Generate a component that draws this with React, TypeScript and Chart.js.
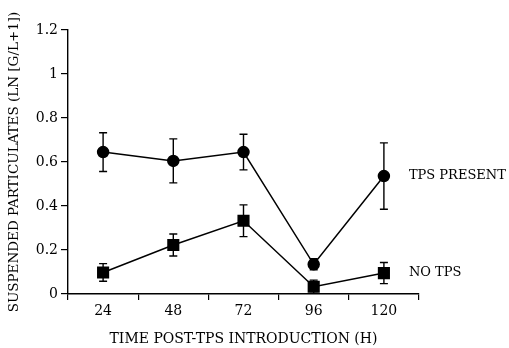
import React, { useEffect, useRef } from "react";
import { Chart, registerables } from "chart.js";

Chart.register(...registerables);

const categories = ["24", "48", "72", "96", "120"];
const tpsPresent = [0.645, 0.605, 0.645, 0.135, 0.536];
const tpsPresentErr = [0.088, 0.1, 0.081, 0.025, 0.151];
const noTps = [0.098, 0.223, 0.333, 0.033, 0.095];
const noTpsErr = [0.04, 0.05, 0.072, 0.03, 0.048];
const seriesLabels = ["TPS PRESENT", "NO TPS"];
const yTitle = "SUSPENDED PARTICULATES (LN [G/L+1])";
const xTitle = "TIME POST-TPS INTRODUCTION (H)";

const FONT = "'DejaVu Serif', 'Liberation Serif', serif";

const errorBarPlugin = {
  id: "errorBars",
  afterDatasetsDraw(chart: any) {
    const ctx = chart.ctx;
    const yScale = chart.scales.y;
    chart.data.datasets.forEach((ds: any, i: number) => {
      const meta = chart.getDatasetMeta(i);
      const errs: number[] = ds.errors || [];
      ctx.save();
      ctx.strokeStyle = "#000";
      ctx.lineWidth = 1.4;
      meta.data.forEach((pt: any, j: number) => {
        const v = ds.data[j];
        const e = errs[j] || 0;
        const x = pt.x;
        const yTop = yScale.getPixelForValue(v + e);
        const yBot = yScale.getPixelForValue(Math.max(0, v - e));
        ctx.beginPath();
        ctx.moveTo(x, yTop);
        ctx.lineTo(x, yBot);
        ctx.moveTo(x - 4, yTop);
        ctx.lineTo(x + 4, yTop);
        ctx.moveTo(x - 4, yBot);
        ctx.lineTo(x + 4, yBot);
        ctx.stroke();
      });
      const last = meta.data[meta.data.length - 1];
      if (last) {
        ctx.fillStyle = "#000";
        ctx.font = "13px " + FONT;
        ctx.textBaseline = "middle";
        ctx.textAlign = "left";
        ctx.fillText(ds.label, last.x + 25, last.y);
      }
      ctx.restore();
    });
  },
};

export default function App() {
  const ref = useRef<HTMLCanvasElement | null>(null);
  useEffect(() => {
    document.body.style.margin = "0";
    const chart = new Chart(ref.current as HTMLCanvasElement, {
      type: "line",
      data: {
        labels: categories,
        datasets: [
          {
            label: seriesLabels[0],
            data: tpsPresent,
            errors: tpsPresentErr,
            borderColor: "#000",
            backgroundColor: "#000",
            borderWidth: 1.5,
            pointStyle: "circle",
            pointRadius: 5.5,
            pointHoverRadius: 5.5,
            tension: 0,
          } as any,
          {
            label: seriesLabels[1],
            data: noTps,
            errors: noTpsErr,
            borderColor: "#000",
            backgroundColor: "#000",
            borderWidth: 1.5,
            pointStyle: "rect",
            pointRadius: 7.5,
            pointHoverRadius: 7.5,
            tension: 0,
          } as any,
        ],
      },
      options: {
        responsive: false,
        animation: false,
        events: [],
        layout: { padding: { left: 0, right: 90, top: 30, bottom: 0 } },
        plugins: {
          legend: { display: false },
          tooltip: { enabled: false },
        },
        scales: {
          x: {
            type: "category",
            offset: true,
            grid: {
              offset: true,
              drawOnChartArea: false,
              drawTicks: true,
              tickLength: 6,
              color: "#000",
              lineWidth: 1.2,
            },
            border: { color: "#000", width: 1.4 },
            ticks: {
              color: "#000",
              padding: 3,
              font: { family: FONT, size: 14 },
              maxRotation: 0,
            },
            title: {
              display: true,
              text: xTitle,
              color: "#000",
              font: { family: FONT, size: 14 },
              padding: { top: 0, bottom: 0 },
            },
            afterFit(scale: any) {
              scale.height = 54;
            },
          },
          y: {
            min: 0,
            max: 1.2,
            ticks: {
              stepSize: 0.2,
              color: "#000",
              padding: 3,
              font: { family: FONT, size: 14 },
              callback: (v: any) => String(Number(Number(v).toFixed(1))),
            },
            grid: {
              drawOnChartArea: false,
              drawTicks: true,
              tickLength: 7,
              color: "#000",
              lineWidth: 1.2,
            },
            border: { color: "#000", width: 1.4 },
            title: {
              display: true,
              text: yTitle,
              color: "#000",
              font: { family: FONT, size: 13.5 },
              padding: { top: 6, bottom: 0 },
            },
            afterFit(scale: any) {
              scale.width = 68;
            },
          },
        },
      } as any,
      plugins: [errorBarPlugin],
    });
    return () => chart.destroy();
  }, []);
  return (
    <div style={{ position: "absolute", left: 0, top: 0, width: 509, height: 348, background: "#fff" }}>
      <canvas ref={ref} width={509} height={348} />
    </div>
  );
}
